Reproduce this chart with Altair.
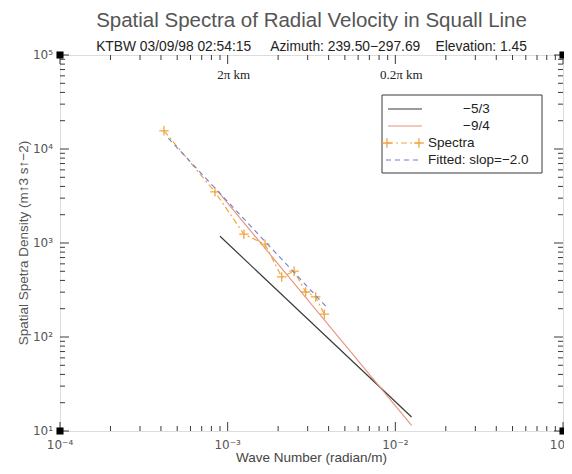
import math
import altair as alt
import pandas as pd

# ---------------- data ----------------
spectra_k = [4.17e-4, 8.4e-4, 1.25e-3, 1.67e-3, 2.10e-3, 2.49e-3, 2.92e-3, 3.35e-3, 3.77e-3]
spectra_p = [1.56e4, 3.5e3, 1.24e3, 971, 436, 501, 301, 267, 175]

line53_k = [9.0e-4, 1.25e-2]
line53_p = [1180, 14.1]

line94_k = [8.8e-4, 1.25e-2]
line94_p = [3500, 11.5]

fit_k = [4.43e-4, 3.89e-3]
fit_p = [1.30e4, 208]

x_decades = [1e-4, 1e-3, 1e-2, 1e-1]
y_decades = [1e1, 1e2, 1e3, 1e4, 1e5]
x_tick_labels = ["10⁻⁴", "10⁻³", "10⁻²", "10⁻¹"]
y_tick_labels = ["10¹", "10²", "10³", "10⁴", "10⁵"]
minor_mult = [2, 3, 4, 5, 6, 7, 8, 9]

scale_k = [1e-3, 1e-2]
scale_text = ["2π km", "0.2π km"]

legend_labels = ["−5/3", "−9/4", "Spectra", "Fitted: slop=−2.0"]

NB = "\u00a0"
title_text = "Spatial Spectra of Radial Velocity in Squall Line"
subtitle_text = ("KTBW 03/09/98 02:54:15" + NB * 5 + "Azimuth: 239.50−297.69"
                 + NB * 4 + "Elevation: 1.45")
x_title = "Wave Number (radian/m)"
y_title = "Spatial Spetra Density (m↑3 s↑−2)"

# ---------------- styling ----------------
W, H = 503, 376
C_BLACK = "#3a3a3a"
C_RED = "#e8907a"
C_ORANGE = "#f2a640"
C_BLUE = "#6f7fcf"
FONT = "Liberation Sans"
GRAY = "#555555"

xs = alt.Scale(type="log", domain=[x_decades[0], x_decades[-1]], nice=False)
ys = alt.Scale(type="log", domain=[y_decades[0], y_decades[-1]], nice=False)

one = pd.DataFrame({"a": [0]})

spec_df = pd.DataFrame({"k": spectra_k, "p": spectra_p})
l53_df = pd.DataFrame({"k": line53_k, "p": line53_p})
l94_df = pd.DataFrame({"k": line94_k, "p": line94_p})
fit_df = pd.DataFrame({"k": fit_k, "p": fit_p})

plus = "M-1,0L1,0M0,-1L0,1"

XE = lambda: alt.X("k:Q", scale=xs, axis=None)
YE = lambda: alt.Y("p:Q", scale=ys, axis=None)

l53 = alt.Chart(l53_df).mark_line(color=C_BLACK, strokeWidth=1.2).encode(x=XE(), y=YE())
l94 = alt.Chart(l94_df).mark_line(color=C_RED, strokeWidth=1.1).encode(x=XE(), y=YE())
spec_line = alt.Chart(spec_df).mark_line(color=C_ORANGE, strokeWidth=1.2,
                                         strokeDash=[6, 3, 2, 3]).encode(x=XE(), y=YE())
spec_pts = alt.Chart(spec_df).mark_point(shape=plus, size=90, filled=False,
                                         color=C_ORANGE, strokeWidth=1.3, opacity=1).encode(x=XE(), y=YE())
fit = alt.Chart(fit_df).mark_line(color=C_BLUE, strokeWidth=1.1, strokeDash=[5, 4]).encode(x=XE(), y=YE())

layers = [l53, l94, spec_line, spec_pts, fit]

# ---------------- tick labels ----------------
xl_df = pd.DataFrame({"k": x_decades, "t": x_tick_labels})
layers.append(alt.Chart(xl_df).mark_text(font="DejaVu Sans", fontSize=12, color=GRAY,
                                         align="center", baseline="middle").encode(
    x=XE(), y=alt.value(H + 14), text="t:N"))
yl_df = pd.DataFrame({"p": y_decades, "t": y_tick_labels})
layers.append(alt.Chart(yl_df).mark_text(font="DejaVu Sans", fontSize=12, color=GRAY,
                                         align="right", baseline="middle").encode(
    y=YE(), x=alt.value(-7), text="t:N"))

# ---------------- inward ticks on all four sides ----------------
x_minor = [m * d for d in x_decades[:-1] for m in minor_mult]
y_minor = [m * d for d in y_decades[:-1] for m in minor_mult]

for vals, ln in [(x_decades, 9), (x_minor, 5)]:
    dfv = pd.DataFrame({"k": vals})
    for y0, y1 in [(H, H - ln), (0, ln)]:
        layers.append(alt.Chart(dfv).mark_rule(color=C_BLACK, strokeWidth=1).encode(
            x=XE(), y=alt.value(y0), y2=alt.value(y1)))
for vals, ln in [(y_decades, 9), (y_minor, 5)]:
    dfv = pd.DataFrame({"p": vals})
    for x0, x1 in [(0, ln), (W, W - ln)]:
        layers.append(alt.Chart(dfv).mark_rule(color=C_BLACK, strokeWidth=1).encode(
            y=YE(), x=alt.value(x0), x2=alt.value(x1)))

# corner squares
corner_df = pd.DataFrame({
    "k": [x_decades[0], x_decades[-1], x_decades[0], x_decades[-1]],
    "p": [y_decades[0], y_decades[0], y_decades[-1], y_decades[-1]],
})
layers.append(alt.Chart(corner_df).mark_square(size=50, color="black", opacity=1).encode(
    x=XE(), y=YE()))

# wavelength annotations
scale_df = pd.DataFrame({"k": scale_k, "t": scale_text})
layers.append(alt.Chart(scale_df).mark_text(font="Liberation Serif", fontSize=13,
                                            color="#222", dx=6, align="center",
                                            baseline="middle").encode(
    x=XE(), y=alt.value(20), text="t:N"))

# ---------------- legend box ----------------
LX0, LX1, LY0, LY1 = 322, 482, 40, 118
rows = [54, 71, 88, 105]
layers.append(alt.Chart(one).mark_rect(fill="white", stroke=C_BLACK, strokeWidth=1).encode(
    x=alt.value(LX0), x2=alt.value(LX1), y=alt.value(LY0), y2=alt.value(LY1)))
layers.append(alt.Chart(one).mark_rule(color=C_BLACK, strokeWidth=1.2).encode(
    x=alt.value(328), x2=alt.value(362), y=alt.value(rows[0])))
layers.append(alt.Chart(one).mark_rule(color=C_RED, strokeWidth=1.1).encode(
    x=alt.value(328), x2=alt.value(362), y=alt.value(rows[1])))
layers.append(alt.Chart(one).mark_rule(color=C_ORANGE, strokeWidth=1.2, strokeDash=[6, 3, 2, 3]).encode(
    x=alt.value(327), x2=alt.value(359), y=alt.value(rows[2])))
for px in [327, 359]:
    layers.append(alt.Chart(one).mark_point(
        shape=plus, size=90, filled=False, color=C_ORANGE, strokeWidth=1.3, opacity=1).encode(
        x=alt.value(px), y=alt.value(rows[2])))
layers.append(alt.Chart(one).mark_rule(color=C_BLUE, strokeWidth=1.1, strokeDash=[5, 4]).encode(
    x=alt.value(326), x2=alt.value(362), y=alt.value(rows[3])))
leg_df = pd.DataFrame({"t": legend_labels})
for i, xx in enumerate([403, 403, 368, 368]):
    layers.append(alt.Chart(leg_df.iloc[[i]]).mark_text(
        font=FONT, fontSize=13.5, color="#222", align="left", baseline="middle").encode(
        x=alt.value(xx), y=alt.value(rows[i]), text="t:N"))

# ---------------- titles as text ----------------
layers.append(alt.Chart(pd.DataFrame({"t": [title_text]})).mark_text(
    font=FONT, fontSize=20.5, color="#555", align="center", baseline="middle").encode(
    x=alt.value(W / 2), y=alt.value(-34), text="t:N"))
layers.append(alt.Chart(pd.DataFrame({"t": [subtitle_text]})).mark_text(
    font=FONT, fontSize=13.8, color="#222", align="center", baseline="middle").encode(
    x=alt.value(W / 2), y=alt.value(-8), text="t:N"))
layers.append(alt.Chart(pd.DataFrame({"t": [x_title]})).mark_text(
    font=FONT, fontSize=13.5, color="#444", align="center", baseline="middle").encode(
    x=alt.value(W / 2), y=alt.value(H + 27), text="t:N"))
layers.append(alt.Chart(pd.DataFrame({"t": [y_title]})).mark_text(
    font=FONT, fontSize=13.5, color="#555", align="center", baseline="middle", angle=270).encode(
    x=alt.value(-36), y=alt.value(H / 2), text="t:N"))

chart = alt.layer(*layers).properties(
    width=W, height=H,
    autosize=alt.AutoSizeParams(type="none"),
    padding={"left": 52, "top": 47, "right": 1, "bottom": 34},
).configure_view(stroke=C_BLACK, strokeWidth=1.5).configure(background="white")

chart.save("out.html", embed_options={"renderer": "svg", "actions": False})
